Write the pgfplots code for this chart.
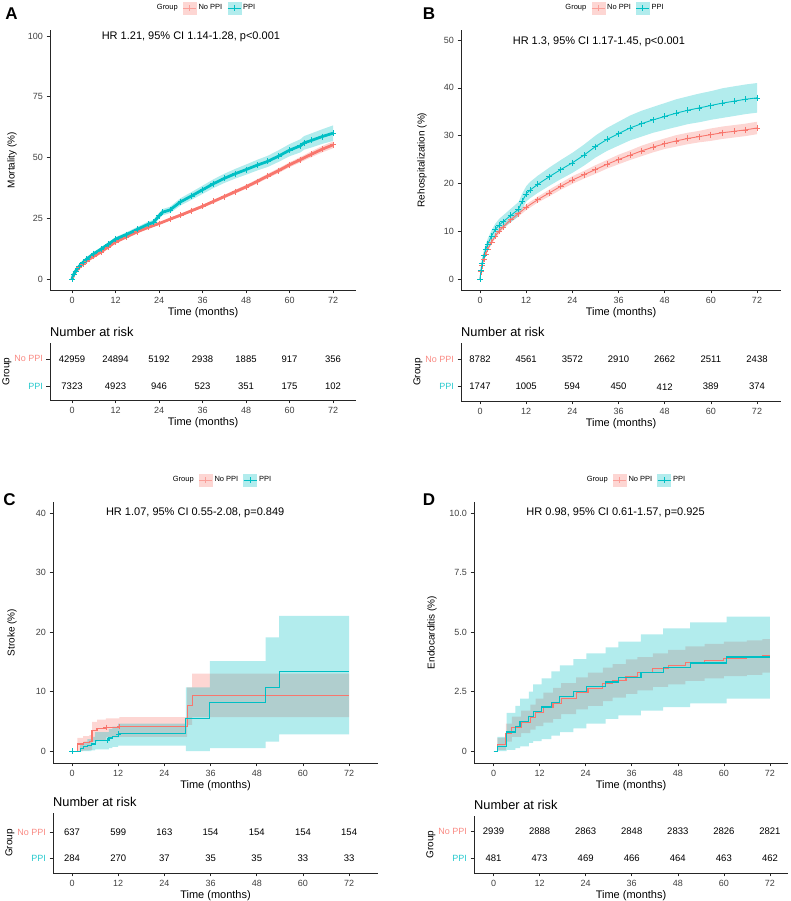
\documentclass[border=0pt]{standalone}
\usepackage{fontspec}
\setmainfont{Liberation Sans}
\usepackage{pgfplots}
\pgfplotsset{compat=1.18}
\usepackage{pgfplotstable}
\usepgfplotslibrary{fillbetween}

\definecolor{noppi}{HTML}{F8766D}
\definecolor{ppi}{HTML}{00BFC4}

% ---------- panel A: mortality ----------
\pgfplotstableread{
t est lo hi
0 0 0 0
0.5 1.8 1.6 2.0
1 3.0 2.8 3.2
2 4.8 4.6 5.0
3 6.2 5.9 6.5
4 7.4 7.1 7.7
6 9.3 9.0 9.6
8 11.1 10.8 11.4
10 13.2 12.9 13.5
12 15.2 14.8 15.6
15 17.3 16.9 17.7
18 19.4 19.0 19.8
21 21.2 20.7 21.7
24 22.8 22.3 23.3
27 24.6 24.1 25.1
30 26.3 25.7 26.9
33 28.1 27.5 28.7
36 29.9 29.3 30.5
39 31.9 31.2 32.6
42 33.9 33.2 34.6
45 35.9 35.1 36.7
48 37.9 37.1 38.7
51 40.1 39.2 41.0
54 42.4 41.5 43.3
57 44.6 43.6 45.6
60 47.0 46.0 48.0
63 49.1 48.0 50.2
66 51.3 50.1 52.5
69 53.4 52.1 54.7
72 55.2 53.8 56.6
}\aNo
\pgfplotstableread{
t est lo hi
0 0 0 0
0.5 2.0 1.6 2.4
1 3.3 2.8 3.8
2 5.3 4.8 5.8
3 6.8 6.2 7.4
4 8.2 7.6 8.8
6 10.4 9.7 11.1
8 12.3 11.6 13.0
10 14.3 13.5 15.1
12 16.4 15.6 17.2
15 18.3 17.4 19.2
18 20.4 19.4 21.4
21 22.5 21.4 23.6
22.5 23.3 22.2 24.4
24 26.0 24.8 27.2
25 27.5 26.2 28.8
27 28.4 27.1 29.7
30 31.8 30.3 33.3
33 34.2 32.6 35.8
36 36.7 35.0 38.4
39 39.2 37.4 41.0
42 41.4 39.5 43.3
45 43.3 41.3 45.3
48 45.0 42.9 47.1
51 46.8 44.6 49.0
54 48.4 46.1 50.7
57 50.6 48.2 53.0
60 53.0 50.5 55.5
63 54.8 52.1 57.5
64 56.0 53.2 58.8
66 57.0 54.1 59.9
69 58.6 55.6 61.6
72 60.0 56.8 63.2
}\aYes
\pgfplotstableread{
t g n
0 2 42959
12 2 24894
24 2 5192
36 2 2938
48 2 1885
60 2 917
72 2 356
0 1 7323
12 1 4923
24 1 946
36 1 523
48 1 351
60 1 175
72 1 102
}\aRisk

% ---------- panel B: rehospitalization ----------
\pgfplotstableread{
t est lo hi
0 0 0 0
0.25 1.5 1.2 1.8
0.5 2.8 2.4 3.2
1 4.2 3.8 4.6
1.5 5.2 4.8 5.6
2 6.2 5.8 6.6
3 7.7 7.3 8.1
4 9.0 8.5 9.5
5 10.0 9.5 10.5
6 10.9 10.4 11.4
8 12.4 11.9 12.9
10 13.7 13.1 14.3
12 15.0 14.4 15.6
15 16.6 16.0 17.2
18 18.0 17.3 18.7
21 19.4 18.7 20.1
24 20.7 19.9 21.5
27 21.8 21.0 22.6
30 22.9 22.0 23.8
33 24.0 23.1 24.9
36 25.0 24.0 26.0
39 25.9 24.9 26.9
42 26.8 25.7 27.9
45 27.6 26.5 28.7
48 28.3 27.2 29.4
51 28.9 27.7 30.1
54 29.4 28.2 30.6
57 29.8 28.6 31.0
60 30.2 28.9 31.5
63 30.6 29.3 31.9
66 30.9 29.6 32.2
69 31.2 29.9 32.5
72 31.6 30.3 32.9
}\bNo
\pgfplotstableread{
t est lo hi
0 0 0 0
0.25 1.8 0.9 2.7
0.5 3.2 2.2 4.2
1 5.0 4.0 6.0
1.5 6.2 5.1 7.3
2 7.3 6.2 8.4
3 9.0 7.8 10.2
4 10.4 9.2 11.6
5 11.3 10.0 12.6
6 12.0 10.7 13.3
8 13.3 11.9 14.7
10 14.6 13.1 16.1
11 16.3 14.7 17.9
12 17.8 16.2 19.4
13 18.6 16.9 20.3
15 19.8 18.0 21.6
18 21.4 19.5 23.3
21 22.9 20.9 24.9
24 24.3 22.2 26.4
27 25.9 23.7 28.1
30 27.7 25.4 30.0
33 29.2 26.8 31.6
36 30.4 27.9 32.9
39 31.6 29.0 34.2
42 32.5 29.8 35.2
45 33.3 30.6 36.0
48 34.0 31.2 36.8
51 34.7 31.8 37.6
54 35.3 32.4 38.2
57 35.8 32.8 38.8
60 36.3 33.3 39.3
63 36.8 33.7 39.9
66 37.2 34.1 40.3
69 37.6 34.5 40.7
72 37.9 34.8 41.0
}\bYes
\pgfplotstableread{
t g n
0 2 8782
12 2 4561
24 2 3572
36 2 2910
48 2 2662
60 2 2511
72 2 2438
0 1 1747
12 1 1005
24 1 594
36 1 450
48 1 412
60 1 389
72 1 374
}\bRisk

% ---------- panel C: stroke (step curves) ----------
\pgfplotstableread{
t est lo hi
0 0 0 0
1.4 1.2 0 2.2
2.9 1.4 0.1 2.5
4.5 1.6 0.2 2.7
5.2 3.5 1.6 4.9
6.5 3.8 1.9 5.3
8.8 4.0 2.3 5.5
12.3 4.1 2.4 5.7
29.9 7.6 4.4 10.7
31.2 9.4 5.7 13.0
72 9.4 5.7 13.0
}\cNo
\pgfplotstableread{
t est lo hi
0 0 0 0
2.1 0.4 0 1.2
3 0.7 0 1.6
4 0.9 0 2.0
5 1.2 0.1 2.4
6 1.8 0.3 3.2
9.6 2.2 0.5 3.7
10.5 2.5 0.7 4.1
12 2.9 0.9 4.6
29.6 5.5 0 10.7
35.8 8.2 0.5 15.1
50.3 10.7 1.6 19.1
53.8 13.4 2.8 22.7
72 13.4 2.8 22.7
}\cYes
\pgfplotstableread{
t y
8.8 4.0
12.3 4.1
}\cNoCens
\pgfplotstableread{
t y
0 0
9.2 1.8
12 2.9
}\cYesCens
\pgfplotstableread{
t g n
0 2 637
12 2 599
24 2 163
36 2 154
48 2 154
60 2 154
72 2 154
0 1 284
12 1 270
24 1 37
36 1 35
48 1 35
60 1 33
72 1 33
}\cRisk

% ---------- panel D: endocarditis (step curves) ----------
\pgfplotstableread{
t est lo hi
0 0 0 0
1.0 0.28 0.05 0.55
3.2 0.75 0.4 1.15
4.8 1.0 0.6 1.45
7.2 1.2 0.75 1.7
9.6 1.42 0.9 1.95
11.0 1.62 1.05 2.2
13.0 1.82 1.2 2.45
15.5 2.0 1.35 2.65
17.6 2.22 1.55 2.85
21.5 2.45 1.75 3.1
24.6 2.62 1.9 3.3
28.5 2.82 2.1 3.5
31 2.98 2.25 3.65
34.5 3.15 2.4 3.85
37.5 3.3 2.55 3.95
41.5 3.45 2.7 4.1
45.5 3.6 2.8 4.25
50.0 3.72 2.95 4.4
55.0 3.82 3.05 4.5
60.0 3.9 3.15 4.6
66.0 3.95 3.2 4.65
70.0 4.0 3.3 4.7
72 4.0 3.3 4.7
}\dNo
\pgfplotstableread{
t est lo hi
0 0 0 0
1.0 0.21 0 0.6
3.4 0.8 0.05 1.6
5.7 1.05 0.12 1.9
6.9 1.25 0.2 2.2
9.2 1.45 0.35 2.5
10.3 1.65 0.42 2.8
12.5 1.85 0.5 3.05
15.1 2.05 0.65 3.35
17.3 2.3 0.8 3.6
20.8 2.5 0.95 3.86
24.2 2.7 1.15 4.1
29.2 2.9 1.35 4.35
32.5 3.1 1.5 4.6
38.4 3.3 1.7 4.9
44.2 3.5 1.85 5.15
51.2 3.7 2.0 5.4
60.7 3.95 2.2 5.65
72 3.95 2.2 5.65
}\dYes
\pgfplotstableread{
t g n
0 2 2939
12 2 2888
24 2 2863
36 2 2848
48 2 2833
60 2 2826
72 2 2821
0 1 481
12 1 473
24 1 469
36 1 466
48 1 464
60 1 463
72 1 462
}\dRisk

\newcommand{\hrfont}{\fontsize{11}{13}\selectfont}

\pgfplotsset{
  base/.style={
    scale only axis,
    axis lines=left,
    axis line style={-, line width=0.7pt, black!85},
    tick align=outside, major tick length=3.5pt,
    tick style={line width=0.6pt, black!85},
    ticklabel style={font=\fontsize{9}{10}\selectfont, text=black!75},
    /pgf/number format/assume math mode=true,
    label style={font=\fontsize{11}{13}\selectfont},
    xtick={0,12,...,72},
    xlabel={Time (months)},
    xlabel style={yshift=3pt},
    every axis y label/.style={at={(axis description cs:0,0.5)}, rotate=90, anchor=center},
  },
  km/.style={
    base,
    legend columns=-1,
    legend cell align=left,
    legend style={draw=none, fill=none, anchor=center, inner sep=0pt,
      font=\fontsize{7.5}{8}\selectfont,
      /tikz/every even column/.append style={column sep=3pt}},
  },
  risk/.style={
    base,
    ytick={1,2},
    yticklabels={{\textcolor{ppi!85}{PPI}},{\textcolor{noppi!85}{No PPI}}},
    ylabel={Group}, ylabel style={yshift=43pt},
    title={Number at risk},
    title style={at={(axis description cs:0,1)}, anchor=south west, inner sep=0pt,
      yshift=0pt, font=\fontsize{12.8}{14}\selectfont},
  },
  risknum/.style={
    only marks, mark=*, mark size=0pt, mark options={draw=none, fill=none},
    nodes near coords, point meta=explicit symbolic,
    every node near coord/.append style={anchor=center, font=\fontsize{9.5}{11}\selectfont, text=black},
  },
  noline/.style={noppi, line width=2.8pt, mark=+, mark size=3pt, mark options={line width=0.7pt}, forget plot},
  yesline/.style={ppi, line width=2.8pt, mark=+, mark size=3pt, mark options={line width=0.7pt}, forget plot},
}

\newcommand{\grouplegend}{%
  \addlegendimage{empty legend}\addlegendentry{Group}
  \addlegendimage{legend image code/.code={%
    \fill[noppi!30] (0pt,-6pt) rectangle (13pt,6pt);
    \draw[noppi!70, line width=0.8pt] (0pt,0pt) -- (13pt,0pt);
    \draw[noppi!70, line width=0.6pt] (6.5pt,-3pt) -- (6.5pt,3pt);}}
  \addlegendentry{No PPI}
  \addlegendimage{legend image code/.code={%
    \fill[ppi!30] (0pt,-6pt) rectangle (13pt,6pt);
    \draw[ppi, line width=0.8pt] (0pt,0pt) -- (13pt,0pt);
    \draw[ppi, line width=0.6pt] (6.5pt,-3pt) -- (6.5pt,3pt);}}
  \addlegendentry{PPI}
}

\begin{document}
\begin{tikzpicture}

% panel letters
\node[font=\fontsize{17}{17}\selectfont\bfseries] at (11.5pt,887pt) {A};
\node[font=\fontsize{17}{17}\selectfont\bfseries] at (429pt,887pt) {B};
\node[font=\fontsize{17}{17}\selectfont\bfseries] at (9.5pt,401pt) {C};
\node[font=\fontsize{17}{17}\selectfont\bfseries] at (429pt,401pt) {D};

% ===== A =====
\begin{axis}[km, at={(50pt,611pt)}, anchor=south west, width=306pt, height=260pt,
  xmin=-6.07, xmax=78.34, ymin=-4.53, ymax=102.47,
  ytick={0,25,50,75,100}, ylabel={Mortality (\%)}, ylabel style={yshift=38pt},
  legend style={at={(0.51,1)}, yshift=22pt}]
\grouplegend
\addplot[name path=aNu, draw=none, forget plot] table[x=t,y=hi]{\aNo};
\addplot[name path=aNl, draw=none, forget plot] table[x=t,y=lo]{\aNo};
\addplot[fill=noppi, fill opacity=0.3, draw=none, forget plot] fill between[of=aNu and aNl];
\addplot[noline] table[x=t,y=est]{\aNo};
\addplot[name path=aYu, draw=none, forget plot] table[x=t,y=hi]{\aYes};
\addplot[name path=aYl, draw=none, forget plot] table[x=t,y=lo]{\aYes};
\addplot[fill=ppi, fill opacity=0.3, draw=none, forget plot] fill between[of=aYu and aYl];
\addplot[yesline] table[x=t,y=est]{\aYes};
\node[font=\hrfont] at (axis cs:32.8,99.6) {HR 1.21, 95\% CI 1.14-1.28, p<0.001};
\end{axis}
\begin{axis}[risk, at={(50pt,501pt)}, anchor=south west, width=306pt, height=57pt,
  xmin=-6.07, xmax=78.34, ymin=0.48, ymax=2.59]
\addplot[risknum] table[x=t,y=g,meta=n]{\aRisk};
\end{axis}

% ===== B =====
\begin{axis}[km, at={(461pt,611pt)}, anchor=south west, width=320pt, height=260pt,
  xmin=-4.94, xmax=78.24, ymin=-2.3, ymax=52.1,
  ytick={0,10,...,50}, ylabel={Rehospitalization (\%)}, ylabel style={yshift=39pt},
  legend style={at={(0.48,1)}, yshift=22pt}]
\grouplegend
\addplot[name path=bNu, draw=none, forget plot] table[x=t,y=hi]{\bNo};
\addplot[name path=bNl, draw=none, forget plot] table[x=t,y=lo]{\bNo};
\addplot[fill=noppi, fill opacity=0.3, draw=none, forget plot] fill between[of=bNu and bNl];
\addplot[noline, line width=0.9pt] table[x=t,y=est]{\bNo};
\addplot[name path=bYu, draw=none, forget plot] table[x=t,y=hi]{\bYes};
\addplot[name path=bYl, draw=none, forget plot] table[x=t,y=lo]{\bYes};
\addplot[fill=ppi, fill opacity=0.3, draw=none, forget plot] fill between[of=bYu and bYl];
\addplot[yesline, line width=0.9pt] table[x=t,y=est]{\bYes};
\node[font=\hrfont] at (axis cs:30.9,49.6) {HR 1.3, 95\% CI 1.17-1.45, p<0.001};
\end{axis}
\begin{axis}[risk, at={(461pt,500pt)}, anchor=south west, width=320pt, height=58pt,
  xmin=-4.94, xmax=78.24, ymin=0.48, ymax=2.59]
\addplot[risknum] table[x=t,y=g,meta=n]{\bRisk};
\end{axis}

% ===== C =====
\begin{axis}[km, at={(53pt,138pt)}, anchor=south west, width=325pt, height=261pt,
  xmin=-4.94, xmax=79.5, ymin=-2.0, ymax=41.85,
  ytick={0,10,...,40}, ylabel={Stroke (\%)}, ylabel style={yshift=41pt},
  legend style={at={(0.52,1)}, yshift=22pt}]
\grouplegend
\addplot[name path=cNu, draw=none, forget plot, const plot] table[x=t,y=hi]{\cNo};
\addplot[name path=cNl, draw=none, forget plot, const plot] table[x=t,y=lo]{\cNo};
\addplot[fill=noppi, fill opacity=0.3, draw=none, forget plot] fill between[of=cNu and cNl];
\addplot[noppi, line width=1.1pt, const plot, forget plot] table[x=t,y=est]{\cNo};
\addplot[noppi, only marks, mark=+, mark size=2.6pt, mark options={line width=0.6pt}, forget plot] table[x=t,y=y]{\cNoCens};
\addplot[name path=cYu, draw=none, forget plot, const plot] table[x=t,y=hi]{\cYes};
\addplot[name path=cYl, draw=none, forget plot, const plot] table[x=t,y=lo]{\cYes};
\addplot[fill=ppi, fill opacity=0.3, draw=none, forget plot] fill between[of=cYu and cYl];
\addplot[ppi, line width=1.1pt, const plot, forget plot] table[x=t,y=est]{\cYes};
\addplot[ppi, only marks, mark=+, mark size=2.6pt, mark options={line width=0.6pt}, forget plot] table[x=t,y=y]{\cYesCens};
\node[font=\hrfont] at (axis cs:32,40) {HR 1.07, 95\% CI 0.55-2.08, p=0.849};
\end{axis}
\begin{axis}[risk, at={(53pt,28pt)}, anchor=south west, width=325pt, height=60pt,
  xmin=-4.94, xmax=79.5, ymin=0.42, ymax=2.73]
\addplot[risknum] table[x=t,y=g,meta=n]{\cRisk};
\end{axis}

% ===== D =====
\begin{axis}[km, at={(474pt,138pt)}, anchor=south west, width=314pt, height=261pt,
  xmin=-5.08, xmax=76.7, ymin=-0.5, ymax=10.46,
  ytick={0,2.5,5,7.5,10}, yticklabels={0,2.5,5.0,7.5,10.0},
  ylabel={Endocarditis (\%)}, ylabel style={yshift=42pt},
  legend style={at={(0.516,1)}, yshift=22pt}]
\grouplegend
\addplot[name path=dNu, draw=none, forget plot, const plot] table[x=t,y=hi]{\dNo};
\addplot[name path=dNl, draw=none, forget plot, const plot] table[x=t,y=lo]{\dNo};
\addplot[fill=noppi, fill opacity=0.3, draw=none, forget plot] fill between[of=dNu and dNl];
\addplot[noppi, line width=1.1pt, const plot, forget plot] table[x=t,y=est]{\dNo};
\addplot[name path=dYu, draw=none, forget plot, const plot] table[x=t,y=hi]{\dYes};
\addplot[name path=dYl, draw=none, forget plot, const plot] table[x=t,y=lo]{\dYes};
\addplot[fill=ppi, fill opacity=0.3, draw=none, forget plot] fill between[of=dYu and dYl];
\addplot[ppi, line width=1.1pt, const plot, forget plot] table[x=t,y=est]{\dYes};
\node[font=\hrfont] at (axis cs:31.8,10) {HR 0.98, 95\% CI 0.61-1.57, p=0.925};
\end{axis}
\begin{axis}[risk, at={(474pt,28pt)}, anchor=south west, width=314pt, height=57pt,
  xmin=-5.08, xmax=76.7, ymin=0.44, ymax=2.56]
\addplot[risknum] table[x=t,y=g,meta=n]{\dRisk};
\end{axis}

\pgfresetboundingbox
\path[use as bounding box] (0pt,0pt) rectangle (791pt,901pt);
\end{tikzpicture}
\end{document}
